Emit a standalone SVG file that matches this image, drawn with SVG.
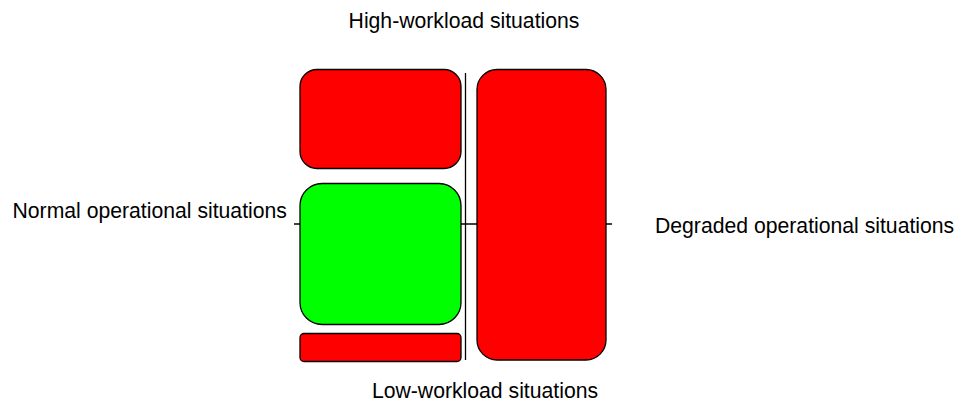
<svg xmlns="http://www.w3.org/2000/svg" width="967" height="403" viewBox="0 0 967 403">
<style>
.lbl{font-family:"Liberation Sans",Arial,sans-serif;font-size:21.2px;fill:#000}
.box{stroke:#000;stroke-width:1.3}
.red{fill:#ff0000}
.green{fill:#00ff00}
.ln{stroke:#000;stroke-width:1.3;fill:none}
</style>
<rect width="967" height="403" fill="#fff"/>
<g id="connectors">
<line class="ln" x1="294" y1="224" x2="612" y2="224"/>
<line class="ln" x1="465.5" y1="73" x2="465.5" y2="360"/>
</g>
<g id="high"><rect class="box red" x="300" y="69.5" width="161" height="99" rx="17"/></g>
<g id="normal"><rect class="box green" x="300" y="183.5" width="161" height="141" rx="22"/></g>
<g id="low"><rect class="box red" x="300" y="333.5" width="161" height="28" rx="4"/></g>
<g id="degraded"><rect class="box red" x="477" y="69.5" width="129" height="290.5" rx="20"/></g>
<text class="lbl" x="464" y="27.7" text-anchor="middle">High-workload situations</text>
<text class="lbl" x="12.5" y="218.3">Normal operational situations</text>
<text class="lbl" x="655" y="232.7">Degraded operational situations</text>
<text class="lbl" x="485" y="397.7" text-anchor="middle">Low-workload situations</text>
</svg>
